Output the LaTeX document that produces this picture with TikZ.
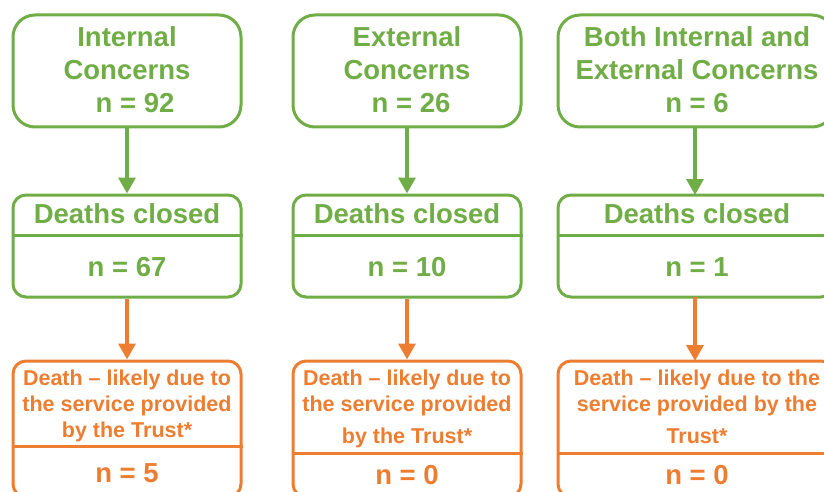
\documentclass[tikz,border=0pt]{standalone}
\usepackage{fontspec}
\setmainfont{Liberation Sans}
\usetikzlibrary{arrows.meta}
\definecolor{cgreen}{HTML}{70AD47}
\definecolor{corange}{HTML}{ED7D31}
\begin{document}
\begin{tikzpicture}[x=1pt,y=-1pt,
  gbox/.style={draw=cgreen,line width=3pt,minimum width=#1,inner sep=0pt},
  topbox/.style={gbox=#1,rounded corners=22pt,minimum height=112pt},
  midbox/.style={gbox=#1,rounded corners=13pt,minimum height=102pt},
  botbox/.style={draw=corange,line width=3pt,minimum width=#1,inner sep=0pt,rounded corners=13pt,minimum height=136pt},
  gtxt/.style={text=cgreen,font=\fontsize{27.5}{33}\selectfont\bfseries,anchor=base,inner sep=0pt},
  otxt/.style={text=corange,font=\fontsize{21.5}{26}\selectfont\bfseries,anchor=base,inner sep=0pt},
  ontxt/.style={text=corange,font=\fontsize{27.5}{33}\selectfont\bfseries,anchor=base,inner sep=0pt},
  garrow/.style={draw=cgreen,line width=3.5pt,-{Triangle[width=17pt,length=16pt]}},
  oarrow/.style={draw=corange,line width=3.5pt,-{Triangle[width=17pt,length=16pt]}},
  gdiv/.style={draw=cgreen,line width=3pt},
  odiv/.style={draw=corange,line width=3pt}]
\useasboundingbox (0,0) rectangle (824,492);
\clip (0,0) rectangle (824,492);
% boxes
\node[topbox=228pt] (t1) at (127,71) {};
\node[topbox=228pt] (t2) at (407,71) {};
\node[topbox=276pt] (t3) at (696,71) {};
\node[midbox=228pt] (m1) at (127,246) {};
\node[midbox=228pt] (m2) at (407,246) {};
\node[midbox=276pt] (m3) at (696,246) {};
\node[botbox=228pt] (b1) at (127,429) {};
\node[botbox=228pt] (b2) at (407,429) {};
\node[botbox=276pt] (b3) at (696,429) {};
% dividers
\draw[gdiv] (m1.west |- 0,235) -- (m1.east |- 0,235);
\draw[gdiv] (m2.west |- 0,235) -- (m2.east |- 0,235);
\draw[gdiv] (m3.west |- 0,235) -- (m3.east |- 0,235);
\draw[odiv] (b1.west |- 0,446) -- (b1.east |- 0,446);
\draw[odiv] (b2.west |- 0,453) -- (b2.east |- 0,453);
\draw[odiv] (b3.west |- 0,453) -- (b3.east |- 0,453);
% arrows
\draw[garrow] (t1.south) -- (m1.north);
\draw[garrow] (t2.south) -- (m2.north);
\draw[garrow] (695,127) coordinate (t3s) -- (695,195) coordinate (m3n);
\draw[oarrow] (m1.south) -- (b1.north);
\draw[oarrow] (m2.south) -- (b2.north);
\draw[oarrow] (695,297) coordinate (m3s) -- (695,361) coordinate (b3n);
% top texts
\node[gtxt] (t1a) at (127,47) {Internal};
\node[gtxt] (t1b) at (127,80) {Concerns};
\node[gtxt] (t1c) at (135,113) {n = 92};
\node[gtxt] (t2a) at (407,47) {External};
\node[gtxt] (t2b) at (407,80) {Concerns};
\node[gtxt] (t2c) at (411,113) {n = 26};
\node[gtxt] (t3a) at (697,47) {Both Internal and};
\node[gtxt] (t3b) at (697,80) {External Concerns};
\node[gtxt] (t3c) at (697,113) {n = 6};
% middle texts
\node[gtxt] (m1a) at (127,223) {Deaths closed};
\node[gtxt] (m1b) at (127,276) {n = 67};
\node[gtxt] (m2a) at (407,223) {Deaths closed};
\node[gtxt] (m2b) at (407,276) {n = 10};
\node[gtxt] (m3a) at (697,223) {Deaths closed};
\node[gtxt] (m3b) at (697,276) {n = 1};
% bottom texts
\node[otxt] (b1a) at (127,385) {Death – likely due to};
\node[otxt] (b1b) at (127,411) {the service provided};
\node[otxt] (b1c) at (127,437) {by the Trust*};
\node[ontxt] (b1d) at (127,482) {n = 5};
\node[otxt] (b2a) at (407,385) {Death – likely due to};
\node[otxt] (b2b) at (407,411) {the service provided};
\node[otxt] (b2c) at (407,443) {by the Trust*};
\node[ontxt] (b2d) at (407,484) {n = 0};
\node[otxt] (b3a) at (697,385) {Death – likely due to the};
\node[otxt] (b3b) at (697,411) {service provided by the};
\node[otxt] (b3c) at (697,443) {Trust*};
\node[ontxt] (b3d) at (697,484) {n = 0};
\end{tikzpicture}
\end{document}
